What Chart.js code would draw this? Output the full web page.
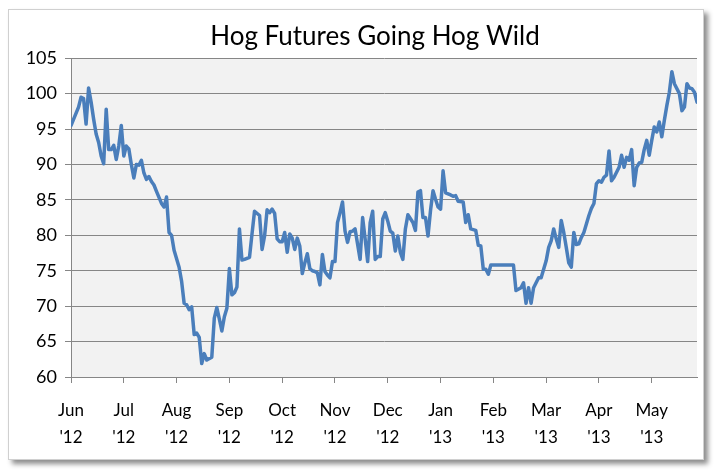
<!DOCTYPE html>
<html>
<head>
<meta charset="utf-8">
<script src="https://cdn.jsdelivr.net/npm/chart.js@4"></script>
<style>
  html, body { margin: 0; padding: 0; background: #fff; }
  #frame {
    position: absolute; left: 8px; top: 9px; width: 694px; height: 449px;
    background: #fff; border: 1px solid #d0d0d0;
    box-shadow: 4px 4px 5px rgba(0,0,0,0.45);
  }
  canvas { display: block; }
</style>
</head>
<body>
<div id="frame"><canvas id="hogChart" width="694" height="449"></canvas></div>
<script>
// Month labels (two lines each), one every 21 trading days
const months = ['Jun', 'Jul', 'Aug', 'Sep', 'Oct', 'Nov', 'Dec', 'Jan', 'Feb', 'Mar', 'Apr', 'May'];
const years = ["'12", "'12", "'12", "'12", "'12", "'12", "'12", "'13", "'13", "'13", "'13", "'13"];
const daysPerMonth = 21;

// Trading day index (from Jun 1 '12) and lean hog futures price
const tradingDay = [
  0, 3, 4, 5, 6, 7, 8, 9, 10, 11, 12, 13, 14, 15, 16, 17, 18, 19, 20, 21,
  22, 23, 24, 25, 26, 27, 28, 29, 30, 31, 32, 33, 34, 36, 37, 38, 39, 40, 41, 43,
  44, 45, 46, 47, 48, 49, 50, 51, 52, 53, 54, 56, 57, 58, 59, 60, 61, 62, 63, 64,
  65, 66, 67, 68, 69, 71, 72, 73, 75, 76, 77, 78, 79, 80, 81, 82, 83, 84, 85, 86,
  87, 88, 89, 90, 91, 92, 93, 94, 95, 96, 97, 98, 99, 100, 101, 102, 103, 104, 105, 106,
  107, 108, 109, 110, 111, 112, 113, 115, 116, 117, 118, 119, 120, 121, 122, 123, 124, 125, 126, 127,
  128, 129, 130, 131, 132, 133, 134, 136, 137, 138, 139, 140, 141, 142, 143, 144, 145, 146, 147, 148,
  149, 151, 152, 153, 154, 156, 157, 158, 159, 161, 162, 163, 164, 165, 166, 167, 170, 176, 177, 179,
  180, 181, 182, 183, 184, 185, 186, 187, 189, 190, 191, 192, 193, 194, 195, 196, 197, 198, 199, 200,
  201, 202, 203, 204, 206, 207, 208, 209, 210, 211, 212, 213, 214, 215, 216, 218, 219, 220, 221, 222,
  223, 224, 225, 226, 227, 228, 229, 230, 231, 232, 233, 234, 235, 236, 237, 238, 239, 240, 242, 243,
  244, 245, 246, 247, 248, 249
];
const price = [
  95.5, 98.1, 99.5, 99.3, 95.7, 100.8, 98.8, 96.4, 94.3, 93.1, 91.2, 90.1, 97.8, 92.1, 92.1, 92.7, 90.7, 92.6, 95.5, 91.2,
  92.6, 92.2, 90.0, 88.1, 90.0, 89.9, 90.6, 88.8, 87.9, 88.3, 87.6, 87.1, 86.2, 84.5, 84.0, 85.4, 80.4, 80.0, 77.9, 75.5,
  73.5, 70.4, 70.2, 69.5, 69.9, 66.0, 66.2, 65.6, 61.9, 63.3, 62.4, 62.8, 68.3, 69.8, 68.2, 66.5, 68.5, 69.7, 75.3, 71.6,
  71.9, 72.7, 80.9, 76.5, 76.6, 76.9, 80.2, 83.4, 82.8, 78.0, 79.9, 83.6, 83.2, 83.7, 83.1, 79.5, 79.1, 79.1, 80.4, 77.6,
  80.2, 79.6, 78.0, 79.6, 78.5, 74.6, 76.1, 77.4, 75.3, 75.0, 74.9, 74.7, 73.0, 77.3, 74.9, 74.4, 74.0, 76.3, 76.3, 81.8,
  83.2, 84.7, 80.6, 79.0, 80.5, 80.6, 80.9, 76.6, 82.5, 79.5, 76.3, 81.8, 83.4, 76.6, 77.0, 77.0, 82.3, 83.2, 82.0, 80.6,
  80.3, 77.8, 79.9, 77.6, 76.6, 80.9, 82.9, 81.8, 80.7, 86.1, 86.3, 82.5, 82.5, 79.9, 83.5, 86.3, 85.1, 84.0, 83.7, 89.1,
  86.0, 85.7, 85.5, 85.6, 84.8, 84.7, 81.8, 82.9, 80.9, 80.7, 78.6, 78.5, 75.2, 75.2, 74.5, 75.8, 75.8, 75.8, 72.2, 72.6,
  73.3, 70.4, 72.6, 70.4, 72.6, 73.3, 74.0, 74.0, 76.4, 78.3, 79.2, 80.9, 79.5, 78.3, 82.1, 80.4, 78.3, 76.1, 75.5, 80.4,
  78.7, 78.8, 79.7, 80.4, 82.8, 83.8, 84.5, 87.3, 87.7, 87.5, 88.2, 88.5, 91.9, 87.7, 88.2, 89.6, 91.3, 89.6, 91.0, 90.6,
  92.1, 87.0, 89.6, 90.2, 90.3, 92.1, 93.4, 91.3, 93.4, 95.3, 94.6, 96.0, 93.9, 96.2, 98.3, 100.2, 103.1, 101.4, 100.0, 97.6,
  98.1, 101.4, 100.8, 100.7, 100.2, 98.8
];

const gridGray = '#868686';
const fontFace = 'Lato, "Open Sans", sans-serif';

document.addEventListener('DOMContentLoaded', function() {
    const ctx = document.getElementById('hogChart').getContext('2d');
    new Chart(ctx, {
        type: 'line',
        data: {
            datasets: [{
                data: tradingDay.map((d, i) => ({ x: d, y: price[i] })),
                borderColor: '#4a7ebb',
                borderWidth: 3.5,
                borderJoinStyle: 'round',
                borderCapStyle: 'round',
                pointRadius: 0,
                tension: 0
            }]
        },
        options: {
            responsive: false,
            animation: false,
            layout: { padding: { left: 0, right: 6, top: 0, bottom: 0 } },
            plugins: {
                legend: { display: false },
                tooltip: { enabled: false },
                title: {
                    display: true,
                    text: 'Hog Futures Going Hog Wild',
                    color: '#000',
                    font: { family: fontFace, size: 26, weight: 'normal' },
                    padding: { top: 11, bottom: 6 }
                }
            },
            scales: {
                x: {
                    type: 'linear',
                    min: 0,
                    max: 249,
                    afterBuildTicks: function(scale) {
                        scale.ticks = months.map((m, i) => ({ value: i * daysPerMonth }));
                    },
                    afterFit: function(scale) { scale.height = 82; },
                    grid: { drawOnChartArea: false, drawTicks: true, tickLength: 6, color: gridGray },
                    border: { color: gridGray, width: 1 },
                    ticks: {
                        autoSkip: false,
                        maxRotation: 0,
                        padding: 14,
                        color: '#000',
                        font: { family: fontFace, size: 17, lineHeight: 1.6 },
                        callback: function(value) {
                            const i = Math.round(value / daysPerMonth);
                            return [months[i], years[i]];
                        }
                    }
                },
                y: {
                    min: 60,
                    max: 105,
                    afterFit: function(scale) { scale.width = 62; },
                    grid: { color: gridGray, lineWidth: 1, tickLength: 6 },
                    border: { color: gridGray, width: 1 },
                    ticks: {
                        stepSize: 5,
                        padding: 8,
                        color: '#000',
                        font: { family: fontFace, size: 18 }
                    }
                }
            }
        },
        plugins: [{
            id: 'plotBackground',
            beforeDraw: function(chart) {
                const a = chart.chartArea;
                chart.ctx.save();
                chart.ctx.fillStyle = '#f2f2f2';
                chart.ctx.fillRect(a.left, a.top, a.right - a.left, a.bottom - a.top);
                chart.ctx.restore();
            }
        }, {
            // Excel centres the title a little left of the plot area
            id: 'titleShift',
            afterLayout: function(chart) {
                if (chart.titleBlock) {
                    chart.titleBlock.left = 44;
                }
            }
        }]
    });
});
</script>
</body>
</html>
